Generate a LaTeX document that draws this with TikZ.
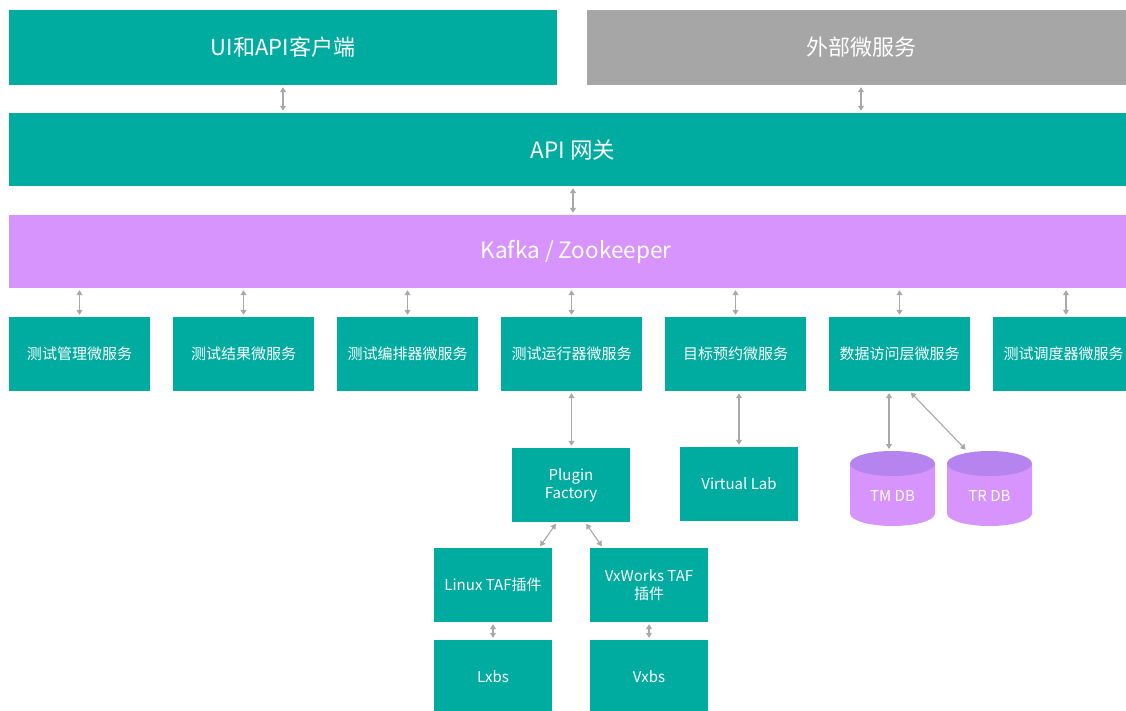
\documentclass[tikz,border=0pt]{standalone}
\usepackage{fontspec}
\setmainfont{Noto Sans CJK SC}
\usetikzlibrary{arrows.meta}
\definecolor{tealbox}{HTML}{00ABA0}
\definecolor{graybox}{HTML}{A6A6A6}
\definecolor{vio}{HTML}{D794FC}
\definecolor{viod}{HTML}{B584EE}
\definecolor{arrc}{HTML}{A8A8A8}
\begin{document}
\begin{tikzpicture}[x=1pt,y=-1pt,
  box/.style={rectangle,fill=tealbox,text=white,inner sep=0pt,align=center},
  big/.style={box,minimum width=548pt,minimum height=75pt,font=\fontsize{22}{26}\selectfont},
  bar/.style={box,minimum width=1128pt,minimum height=73pt,font=\fontsize{22.5}{26}\selectfont},
  svc/.style={box,minimum width=141pt,minimum height=74pt,font=\fontsize{15}{18}\selectfont},
  small/.style={box,minimum width=118pt,minimum height=74pt,font=\fontsize{15}{18}\selectfont},
  dbtext/.style={text=white,inner sep=0pt,font=\fontsize{15}{18}\selectfont},
  conn/.style={draw=arrc,line width=1.1pt,{Triangle[length=5pt,width=6pt]}-{Triangle[length=5pt,width=6pt]},shorten >=2pt,shorten <=2pt}]
\useasboundingbox (0,0) rectangle (1126,711);
\clip (0,0) rectangle (1126,711);
% top row
\node[big] (ui) at (283,47.5) {UI和API客户端};
\node[big,fill=graybox] (ext) at (861,47.5) {外部微服务};
\node[bar] (api) at (573,149.5) {API 网关};
\node[bar,fill=vio] (kafka) at (573,251.5) {\hspace{6pt}Kafka / Zookeeper};
% services
\node[svc] (s1) at (79.5,354) {测试管理微服务};
\node[svc] (s2) at (243.5,354) {测试结果微服务};
\node[svc] (s3) at (407.5,354) {测试编排器微服务};
\node[svc] (s4) at (571.5,354) {测试运行器微服务};
\node[svc] (s5) at (735.5,354) {目标预约微服务};
\node[svc] (s6) at (899.5,354) {数据访问层微服务};
\node[svc] (s7) at (1063.5,354) {测试调度器微服务};
% lower boxes
\node[small] (plugin) at (571,485) {Plugin\\Factory};
\node[small] (vlab) at (739,484) {Virtual Lab};
\node[small] (linux) at (493,585) {Linux TAF插件};
\node[small] (vx) at (649,585) {VxWorks TAF\\插件};
\node[small] (lxbs) at (493,677) {Lxbs};
\node[small] (vxbs) at (649,677) {Vxbs};
% databases
\fill[vio] (850,463.5) -- (850,513.5) arc[start angle=180,end angle=0,x radius=42.5,y radius=12.5] -- (935,463.5) -- cycle;
\fill[viod] (892.5,463.5) ellipse[x radius=42.5,y radius=12.5];
\node[dbtext] (tm) at (892.5,496) {TM DB};
\fill[vio] (947,463.5) -- (947,513.5) arc[start angle=180,end angle=0,x radius=42.5,y radius=12.5] -- (1032,463.5) -- cycle;
\fill[viod] (989.5,463.5) ellipse[x radius=42.5,y radius=12.5];
\node[dbtext] (tr) at (989.5,496) {TR DB};
\coordinate (tmtop) at (889,451);
\coordinate (trtop) at (967,451);
% connectors
\draw[conn] (ui.south) -- (ui.south |- api.north);
\draw[conn] (ext.south) -- (ext.south |- api.north);
\draw[conn] (api.south) -- (kafka.north);
\foreach \s in {s1,s2,s3,s4,s5,s6}
  \draw[conn] (\s.north |- kafka.south) -- (\s.north);
\draw[conn] ([xshift=2.5pt]s7.north |- kafka.south) -- ([xshift=2.5pt]s7.north);
\draw[conn] (s4.south) -- (s4.south |- plugin.north);
\draw[conn] (vlab.north |- s5.south) -- (vlab.north);
\draw[conn] (tmtop |- s6.south) -- (tmtop);
\draw[conn] ([xshift=10pt]s6.south) -- (trtop);
\draw[conn] ([xshift=-14pt]plugin.south) -- ([xshift=46pt]linux.north);
\draw[conn] ([xshift=14pt]plugin.south) -- ([xshift=-46pt]vx.north);
\draw[conn] (linux.south) -- (lxbs.north);
\draw[conn] (vx.south) -- (vxbs.north);
\end{tikzpicture}
\end{document}
